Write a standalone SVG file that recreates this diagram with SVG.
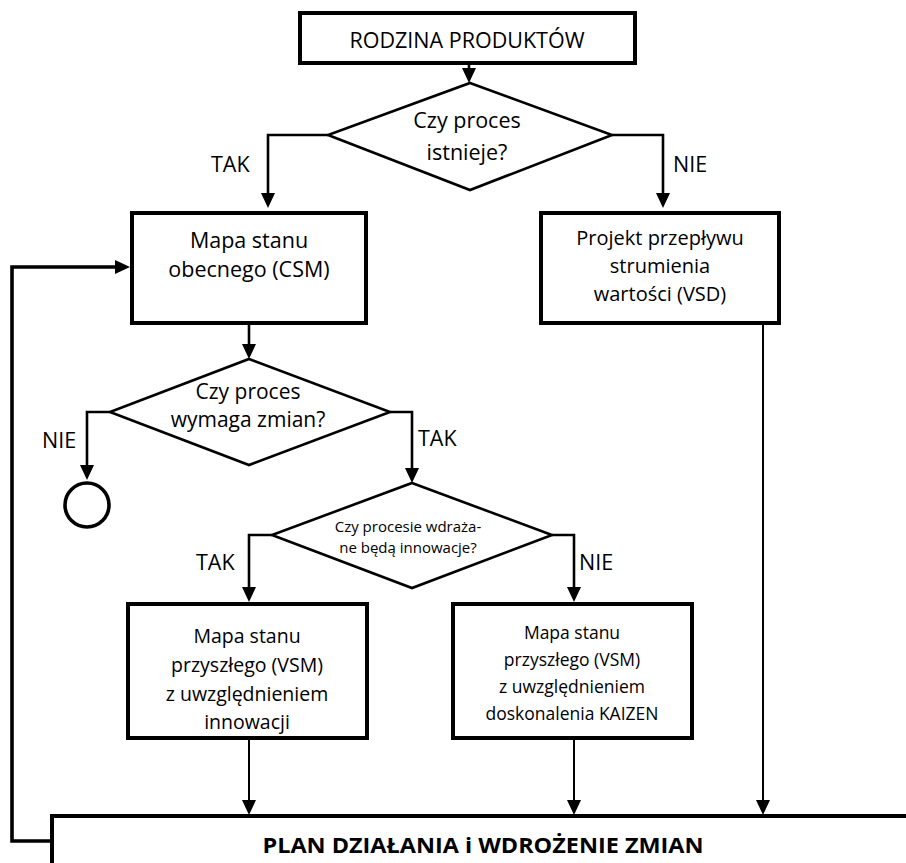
<svg xmlns="http://www.w3.org/2000/svg" width="906" height="863" viewBox="0 0 906 863">
  <style>
    .box { fill: #fff; stroke: #000; stroke-width: 4; }
    .dia { fill: #fff; stroke: #000; stroke-width: 2.6; }
    .t { font-family: "Open Sans", "Noto Sans", "Liberation Sans", sans-serif; fill: #000; text-anchor: middle; }
    .lbl { font-family: "Open Sans", "Noto Sans", "Liberation Sans", sans-serif; fill: #000; font-size: 21.5px; }
    .con { fill: none; stroke: #000; stroke-width: 2.6; }
    .thin { fill: none; stroke: #000; stroke-width: 2; }
  </style>
  <defs>
    <marker id="arrow" markerUnits="userSpaceOnUse" markerWidth="16" markerHeight="15" refX="5" refY="7" orient="auto">
      <path d="M0,0 L15,7 L0,14 z" fill="#000"/>
    </marker>
  </defs>

  <rect width="906" height="863" fill="#fff"/>

  <!-- connectors -->
  <g id="connectors">
    <path class="con" d="M469,63 L469,73" marker-end="url(#arrow)"/>
    <path class="con" d="M328,135 L268,135 L268,198" marker-end="url(#arrow)"/>
    <path class="con" d="M612,135 L663,135 L663,198" marker-end="url(#arrow)"/>
    <path class="con" d="M249,323 L249,349" marker-end="url(#arrow)"/>
    <path class="con" d="M110,412 L87,412 L87,470" marker-end="url(#arrow)"/>
    <path class="con" d="M390,412 L412,412 L412,473" marker-end="url(#arrow)"/>
    <path class="con" d="M272,535 L249,535 L249,592" marker-end="url(#arrow)"/>
    <path class="con" d="M552,535 L574,535 L574,592" marker-end="url(#arrow)"/>
    <path class="thin" d="M249,738 L249,805" marker-end="url(#arrow)"/>
    <path class="thin" d="M574,738 L574,805" marker-end="url(#arrow)"/>
    <path class="thin" d="M763,323 L763,805" marker-end="url(#arrow)"/>
    <path fill="none" stroke="#000" stroke-width="3.6" d="M52,841 L12,841 L12,267 L120,267" marker-end="url(#arrow)"/>
    <text class="lbl" x="211" y="172">TAK</text>
    <text class="lbl" x="673" y="172">NIE</text>
    <text class="lbl" x="42" y="448">NIE</text>
    <text class="lbl" x="418" y="446">TAK</text>
    <text class="lbl" x="196" y="570">TAK</text>
    <text class="lbl" x="579" y="570">NIE</text>
  </g>

  <g id="rodzina">
    <rect class="box" x="300" y="13" width="335" height="50"/>
    <text class="t" x="467" y="48" font-size="21.5">RODZINA PRODUKTÓW</text>
  </g>

  <g id="czy-istnieje">
    <polygon class="dia" points="470,83 612,135 470,190 328,135"/>
    <text class="t" x="467" y="128" font-size="21.5">Czy proces</text>
    <text class="t" x="467" y="160" font-size="21.5">istnieje?</text>
  </g>

  <g id="csm">
    <rect class="box" x="132" y="213" width="234" height="110"/>
    <text class="t" x="249" y="248" font-size="21.5">Mapa stanu</text>
    <text class="t" x="249" y="277" font-size="21.5">obecnego (CSM)</text>
  </g>

  <g id="vsd">
    <rect class="box" x="541" y="213" width="238" height="110"/>
    <text class="t" x="660" y="245" font-size="20">Projekt przepływu</text>
    <text class="t" x="660" y="273" font-size="20">strumienia</text>
    <text class="t" x="660" y="301" font-size="20">wartości (VSD)</text>
  </g>

  <g id="czy-wymaga">
    <polygon class="dia" points="249,359 390,412 249,465 110,412"/>
    <text class="t" x="248" y="399" font-size="21">Czy proces</text>
    <text class="t" x="248" y="427" font-size="21">wymaga zmian?</text>
  </g>

  <g id="koniec">
    <circle cx="87" cy="505" r="22" fill="#fff" stroke="#000" stroke-width="3.6"/>
  </g>

  <g id="czy-innowacje">
    <polygon class="dia" points="412,483 552,535 412,588 272,535"/>
    <text class="t" x="408" y="532" font-size="15">Czy procesie wdraża-</text>
    <text class="t" x="408" y="553" font-size="15">ne będą innowacje?</text>
  </g>

  <g id="vsm-innowacje">
    <rect class="box" x="128" y="604" width="239" height="134"/>
    <text class="t" x="247" y="643" font-size="19.5">Mapa stanu</text>
    <text class="t" x="247" y="672" font-size="19.5">przyszłego (VSM)</text>
    <text class="t" x="247" y="701" font-size="19.5">z uwzględnieniem</text>
    <text class="t" x="247" y="729" font-size="19.5">innowacji</text>
  </g>

  <g id="vsm-kaizen">
    <rect class="box" x="453" y="604" width="239" height="134"/>
    <text class="t" x="572" y="639" font-size="17.5">Mapa stanu</text>
    <text class="t" x="572" y="666" font-size="17.5">przyszłego (VSM)</text>
    <text class="t" x="572" y="693" font-size="17.5">z uwzględnieniem</text>
    <text class="t" x="572" y="720" font-size="17.5">doskonalenia KAIZEN</text>
  </g>

  <g id="plan">
    <rect class="box" x="52" y="816" width="880" height="90"/>
    <text class="t" x="483" y="853" font-size="22" font-weight="bold" textLength="441" lengthAdjust="spacingAndGlyphs">PLAN DZIAŁANIA i WDROŻENIE ZMIAN</text>
  </g>
</svg>
